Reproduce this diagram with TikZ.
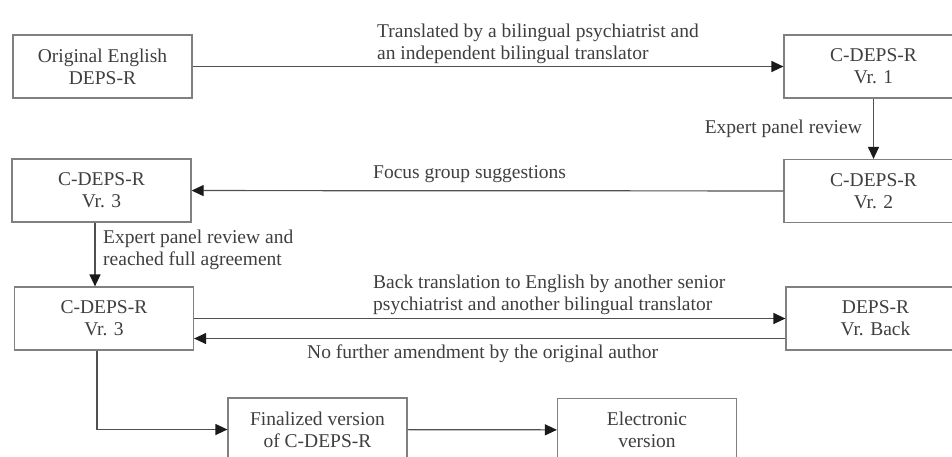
\documentclass[tikz,border=0pt]{standalone}
\usepackage{fontspec}
\setmainfont{Liberation Serif}
\usetikzlibrary{arrows.meta}
\definecolor{txtcol}{HTML}{3F3F3F}
\definecolor{boxcol}{HTML}{808080}
\definecolor{lncol}{HTML}{505050}
\definecolor{tipcol}{HTML}{1A1A1A}
\tikzset{
  stagebox/.style={draw=boxcol, line width=1.2pt, minimum width=179pt, minimum height=63pt,
    inner sep=0pt, align=center, text=txtcol, font=\fontsize{19.5}{22}\selectfont},
  lbl/.style={inner sep=0pt, text=txtcol, font=\fontsize{19.5}{22}\selectfont},
  arr/.style={draw=lncol, line width=1.2pt, -{Triangle[length=12pt,width=11pt,fill=tipcol,color=tipcol]}},
}
\begin{document}
\begin{tikzpicture}[x=1pt, y=-1pt]
\path[use as bounding box, clip] (0,0) rectangle (952,456);
\fill[white] (0,0) rectangle (952,456);

\node[stagebox] (orig) at (102.5,66.5) {Original English\\DEPS-R};
\node[stagebox] (v1) at (873.5,66.5) {C-DEPS-R\\Vr. 1};
\node[stagebox] (v2) at (873.5,191) {C-DEPS-R\\Vr. 2};
\node[stagebox] (v3a) at (101.5,190.5) {C-DEPS-R\\Vr. 3};
\node[stagebox] (v3b) at (104,318.5) {C-DEPS-R\\Vr. 3};
\node[stagebox] (back) at (875.5,318.5) {DEPS-R\\Vr. Back};
\node[stagebox] (fin) at (317.5,429.5) {Finalized version\\of C-DEPS-R};
\node[stagebox] (elec) at (647,430) {Electronic\\version};

\draw[arr] (orig) -- (v1);
\draw[arr] (v1) -- (v2);
\draw[arr] (v2) -- (v3a);
\draw[arr] ([xshift=-6.5pt]v3a.south) -- ([xshift=-6.5pt]v3a.south |- v3b.north);
\draw[arr] (v3b.east) -- (v3b.east -| back.west);
\draw[arr] ([yshift=-20pt]back.west) -- ([yshift=-20pt]back.west -| v3b.east);
\draw[arr] ([xshift=-7pt]v3b.south) |- (fin.west);
\draw[arr] (fin) -- (elec);

\node[lbl, anchor=north west, align=left] (l1) at (377,23.5) {Translated by a bilingual psychiatrist and\\an independent bilingual translator};
\node[lbl, anchor=base east] (l2) at (862,133) {Expert panel review};
\node[lbl, anchor=base west] (l3) at (373,178) {Focus group suggestions};
\node[lbl, anchor=north west, align=left] (l4) at (103,229.5) {Expert panel review and\\reached full agreement};
\node[lbl, anchor=north west, align=left] (l5) at (373,275) {Back translation to English by another senior\\psychiatrist and another bilingual translator};
\node[lbl, anchor=base west] (l6) at (307,358) {No further amendment by the original author};
\end{tikzpicture}
\end{document}
